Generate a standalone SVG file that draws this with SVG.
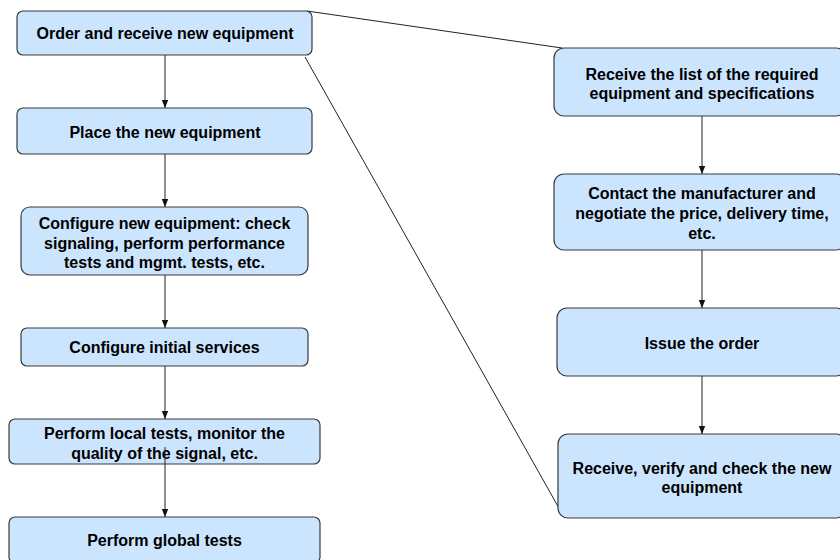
<svg xmlns="http://www.w3.org/2000/svg" width="840" height="560" viewBox="0 0 840 560">
  <style>
    .box { fill: #cce5ff; stroke: #3a3a3a; stroke-width: 1.2; }
    .lbl { font-family: "Liberation Sans", Arial, sans-serif; font-size: 16px; font-weight: bold; fill: #000; text-anchor: middle; }
    .edge { fill: none; stroke: #222; stroke-width: 1; }
  </style>
  <defs>
    <marker id="arrow" viewBox="0 0 8 8" markerWidth="8" markerHeight="8" refX="8" refY="4" orient="auto" markerUnits="userSpaceOnUse">
      <path d="M0,0.8 L8,4 L0,7.2 Z" fill="#111"/>
    </marker>
  </defs>
  <rect width="840" height="560" fill="#fff"/>

  <g id="connectors">
    <line class="edge" x1="165" y1="55" x2="165" y2="108" marker-end="url(#arrow)"/>
    <line class="edge" x1="165" y1="154" x2="165" y2="207" marker-end="url(#arrow)"/>
    <line class="edge" x1="165" y1="275" x2="165" y2="328" marker-end="url(#arrow)"/>
    <line class="edge" x1="165" y1="366" x2="165" y2="419" marker-end="url(#arrow)"/>
    <line class="edge" x1="702" y1="116" x2="702" y2="174" marker-end="url(#arrow)"/>
    <line class="edge" x1="702" y1="250" x2="702" y2="308" marker-end="url(#arrow)"/>
    <line class="edge" x1="702" y1="376" x2="702" y2="434" marker-end="url(#arrow)"/>
    <line class="edge" x1="307" y1="11" x2="562" y2="48"/>
    <line class="edge" x1="305" y1="57" x2="560" y2="510"/>
  </g>

  <g id="order-receive">
    <rect class="box" x="17" y="11" width="295" height="44" rx="6"/>
    <text class="lbl" x="165" y="39">Order and receive new equipment</text>
  </g>
  <g id="place">
    <rect class="box" x="17" y="108" width="295" height="46" rx="6"/>
    <text class="lbl" x="165" y="138">Place the new equipment</text>
  </g>
  <g id="configure-equipment">
    <rect class="box" x="21" y="207" width="287" height="68" rx="9"/>
    <text class="lbl" x="164.5" y="229">Configure new equipment: check</text>
    <text class="lbl" x="164.5" y="249">signaling, perform performance</text>
    <text class="lbl" x="164.5" y="268">tests and mgmt. tests, etc.</text>
  </g>
  <g id="configure-services">
    <rect class="box" x="21" y="328" width="287" height="38" rx="6"/>
    <text class="lbl" x="164.5" y="353">Configure initial services</text>
  </g>
  <g id="local-tests">
    <rect class="box" x="9" y="419" width="311" height="45" rx="6"/>
    <text class="lbl" x="164.5" y="439">Perform local tests, monitor the</text>
    <text class="lbl" x="164.5" y="459">quality of the signal, etc.</text>
  </g>
  <!-- continuation line drawn over the local-tests label -->
  <line class="edge" x1="165" y1="447" x2="165" y2="517" marker-end="url(#arrow)"/>
  <g id="global-tests">
    <rect class="box" x="9" y="517" width="311" height="46" rx="6"/>
    <text class="lbl" x="164.5" y="546">Perform global tests</text>
  </g>

  <g id="receive-list">
    <rect class="box" x="554" y="48" width="292" height="68" rx="10"/>
    <text class="lbl" x="702" y="80">Receive the list of the required</text>
    <text class="lbl" x="702" y="99">equipment and specifications</text>
  </g>
  <g id="contact-manufacturer">
    <rect class="box" x="554" y="174" width="292" height="76" rx="10"/>
    <text class="lbl" x="702" y="199">Contact the manufacturer and</text>
    <text class="lbl" x="702" y="219">negotiate the price, delivery time,</text>
    <text class="lbl" x="702" y="239">etc.</text>
  </g>
  <g id="issue-order">
    <rect class="box" x="557" y="308" width="289" height="68" rx="10"/>
    <text class="lbl" x="702" y="349">Issue the order</text>
  </g>
  <g id="receive-verify">
    <rect class="box" x="558" y="434" width="288" height="84" rx="10"/>
    <text class="lbl" x="702" y="474">Receive, verify and check the new</text>
    <text class="lbl" x="702" y="493">equipment</text>
  </g>
</svg>
